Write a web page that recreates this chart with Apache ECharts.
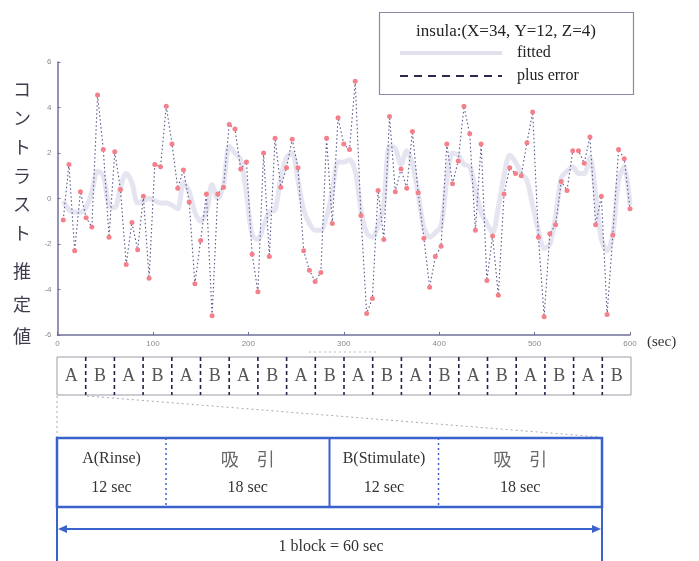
<!DOCTYPE html>
<html>
<head>
<meta charset="utf-8">
<script src="https://cdn.jsdelivr.net/npm/echarts@6/dist/echarts.min.js"></script>
<style>
  html, body { margin: 0; padding: 0; background: #fff; }
  #chart { width: 699px; height: 561px; }
</style>
</head>
<body>
<div id="chart"></div>
<script>
// scan times (sec)
var times = [6, 12, 18, 24, 30, 36, 42, 48, 54, 60,
  66, 72, 78, 84, 90, 96, 102, 108, 114, 120,
  126, 132, 138, 144, 150, 156, 162, 168, 174, 180,
  186, 192, 198, 204, 210, 216, 222, 228, 234, 240,
  246, 252, 258, 264, 270, 276, 282, 288, 294, 300,
  306, 312, 318, 324, 330, 336, 342, 348, 354, 360,
  366, 372, 378, 384, 390, 396, 402, 408, 414, 420,
  426, 432, 438, 444, 450, 456, 462, 468, 474, 480,
  486, 492, 498, 504, 510, 516, 522, 528, 534, 540,
  546, 552, 558, 564, 570, 576, 582, 588, 594, 600];

var fitted = [-0.1, -0.5, -0.6, -0.6, -0.4, 0.3, 1.2, 1.0, -0.3, -0.4,
  0.5, 1.1, 0.7, -0.2, -0.1, 0.0, -0.1, -0.2, -0.2, -0.3,
  -0.45, 0.7, 0.3, -0.6, -1.0, -0.6, 0.6, 0.0, 0.6, 2.3,
  2.0, 1.7, 0.2, -1.6, -1.8, -1.2, -0.6, -0.5, 0.9, 1.8,
  2.0, 0.8, -0.5, -1.1, -1.4, -1.4, -0.8, 0.3, 1.6, 1.6,
  1.7, 1.2, -0.5, -1.5, -1.7, -1.2, -0.2, 2.3, 2.2, 1.5,
  2.1, 1.5, 0.2, -1.3, -1.7, -1.5, -1.2, 0.8, 2.0, 1.9,
  1.5, 1.4, 0.4, -0.6, -1.1, -1.5, -0.4, 1.0, 1.9, 1.6,
  1.1, 0.8, -0.3, -1.4, -2.2, -2.0, -0.8, 0.9, 1.2, 1.4,
  1.1, 1.1, 1.8, 0.2, -1.8, -2.3, -1.6, 0.8, 1.4, -0.3];

var plusError = [-0.95, 1.5, -2.3, 0.3, -0.85, -1.25, 4.55, 2.15, -1.7, 2.05,
  0.4, -2.9, -1.05, -2.25, 0.1, -3.5, 1.5, 1.4, 4.05, 2.4,
  0.45, 1.25, -0.15, -3.75, -1.85, 0.2, -5.15, 0.2, 0.5, 3.25,
  3.05, 1.3, 1.6, -2.45, -4.1, 2.0, -2.55, 2.65, 0.5, 1.35,
  2.6, 1.35, -2.3, -3.15, -3.65, -3.25, 2.65, -1.1, 3.55, 2.4,
  2.15, 5.15, -0.75, -5.05, -4.4, 0.35, -1.8, 3.6, 0.3, 1.3,
  0.45, 2.95, 0.25, -1.75, -3.9, -2.55, -2.1, 2.4, 0.65, 1.65,
  4.05, 2.85, -1.4, 2.4, -3.6, -1.65, -4.25, 0.2, 1.35, 1.1,
  1.0, 2.45, 3.8, -1.7, -5.2, -1.55, -1.15, 0.75, 0.35, 2.1,
  2.1, 1.55, 2.7, -1.15, 0.1, -5.1, -1.6, 2.15, 1.75, -0.45];

// block design
var blockLabels = ['A', 'B', 'A', 'B', 'A', 'B', 'A', 'B', 'A', 'B',
  'A', 'B', 'A', 'B', 'A', 'B', 'A', 'B', 'A', 'B'];
var blockSec = 30;
var segDur = [12, 18, 12, 18];
var segTop = ['A(Rinse)', '吸　引', 'B(Stimulate)', '吸　引'];
var segBottom = ['12 sec', '18 sec', '12 sec', '18 sec'];

var yTitleChars = ['コ', 'ン', 'ト', 'ラ', 'ス', 'ト', '推', '定', '値'];
var yTitleTops = [90, 119, 148, 177, 205, 234, 272, 305, 337];

var serif = '"Liberation Serif", "DejaVu Serif", serif';
var cjk = '"Noto Sans CJK JP", sans-serif';
var blue = '#3a62cc';

var chart = echarts.init(document.getElementById('chart'), null, {renderer: 'canvas'});

var blockData = blockLabels.map(function (l, i) { return [i * blockSec, (i + 1) * blockSec, l, i]; });
var segData = [];
var acc = 0;
segDur.forEach(function (d, i) {
  segData.push([acc, acc + d, segTop[i], segBottom[i], i]);
  acc += d;
});

var graphics = [];
yTitleChars.forEach(function (c, i) {
  graphics.push({
    type: 'text', left: 13, top: yTitleTops[i] - 10,
    style: {text: c, font: '18px ' + cjk, fill: '#3d3d4d'}
  });
});
graphics.push(
  {type: 'text', left: 647, top: 335, style: {text: '(sec)', font: '15px ' + serif, fill: '#333'}},
  // legend box
  {type: 'rect', shape: {x: 379.5, y: 12.5, width: 254, height: 82},
    style: {fill: '#fff', stroke: '#8a8aa8', lineWidth: 1.2}, z: 100},
  {type: 'text', x: 506, y: 32, z: 101,
    style: {text: 'insula:(X=34, Y=12, Z=4)', font: '17px ' + serif, fill: '#222', align: 'center', verticalAlign: 'middle'}},
  {type: 'line', shape: {x1: 400, y1: 53, x2: 502, y2: 53}, z: 101,
    style: {stroke: '#e0e0ee', lineWidth: 4}},
  {type: 'text', x: 517, y: 53, z: 101,
    style: {text: 'fitted', font: '16px ' + serif, fill: '#222', verticalAlign: 'middle'}},
  {type: 'line', shape: {x1: 400, y1: 76, x2: 502, y2: 76}, z: 101,
    style: {stroke: '#2a2a50', lineWidth: 2, lineDash: [8, 6]}},
  {type: 'text', x: 517, y: 76, z: 101,
    style: {text: 'plus error', font: '16px ' + serif, fill: '#222', verticalAlign: 'middle'}},
  // faint bracket above block bar
  {type: 'line', shape: {x1: 309, y1: 352, x2: 376, y2: 352},
    style: {stroke: '#b8b8c8', lineWidth: 1, lineDash: [2, 3]}},
  // zoom guides
  {type: 'line', shape: {x1: 57, y1: 396, x2: 57, y2: 438},
    style: {stroke: '#a8a8b8', lineWidth: 1, lineDash: [2, 3]}},
  {type: 'line', shape: {x1: 87, y1: 396, x2: 600, y2: 437},
    style: {stroke: '#a8a8b8', lineWidth: 1, lineDash: [2, 3]}},
  // block span
  {type: 'line', shape: {x1: 57, y1: 507, x2: 57, y2: 561}, style: {stroke: blue, lineWidth: 2}},
  {type: 'line', shape: {x1: 602, y1: 507, x2: 602, y2: 561}, style: {stroke: blue, lineWidth: 2}},
  {type: 'line', shape: {x1: 62, y1: 529, x2: 597, y2: 529}, style: {stroke: blue, lineWidth: 2}},
  {type: 'polygon', shape: {points: [[58, 529], [67, 525], [67, 533]]}, style: {fill: blue}},
  {type: 'polygon', shape: {points: [[601, 529], [592, 525], [592, 533]]}, style: {fill: blue}},
  {type: 'text', x: 331, y: 547,
    style: {text: '1 block = 60 sec', font: '16px ' + serif, fill: '#333', align: 'center', verticalAlign: 'middle'}}
);

var option = {
  animation: false,
  backgroundColor: '#fff',
  grid: [
    {left: 57.5, right: 69, top: 62, bottom: 226},
    {left: 57, right: 68, top: 357, height: 38},
    {left: 57, right: 97, top: 438, height: 69}
  ],
  xAxis: [
    {
      type: 'value', gridIndex: 0, min: 0, max: 600, interval: 100,
      axisLine: {onZero: false, lineStyle: {color: '#6f6f98', width: 1.5}},
      axisTick: {inside: true, length: 3, lineStyle: {color: '#6f6f98'}},
      axisLabel: {fontSize: 8, color: '#8a8a8a', margin: 5},
      splitLine: {show: false}
    },
    {type: 'value', gridIndex: 1, min: 0, max: 600, show: false},
    {type: 'value', gridIndex: 2, min: 0, max: 60, show: false}
  ],
  yAxis: [
    {
      type: 'value', gridIndex: 0, min: -6, max: 6, interval: 2,
      axisLine: {show: true, onZero: false, lineStyle: {color: '#6f6f98', width: 1.5}},
      axisTick: {show: true, inside: true, length: 3, lineStyle: {color: '#6f6f98'}},
      axisLabel: {fontSize: 8, color: '#8a8a8a', margin: 6},
      splitLine: {show: false}
    },
    {type: 'value', gridIndex: 1, min: 0, max: 1, show: false},
    {type: 'value', gridIndex: 2, min: 0, max: 1, show: false}
  ],
  series: [
    {
      name: 'fitted', type: 'line', xAxisIndex: 0, yAxisIndex: 0,
      data: times.map(function (t, i) { return [t, fitted[i]]; }),
      smooth: 0.3, showSymbol: false,
      lineStyle: {color: '#e2e2ef', width: 5, opacity: 0.9}, z: 2
    },
    {
      name: 'plus error', type: 'line', xAxisIndex: 0, yAxisIndex: 0,
      data: times.map(function (t, i) { return [t, plusError[i]]; }),
      symbol: 'circle', symbolSize: 5,
      itemStyle: {color: '#f4808c'},
      lineStyle: {color: '#55558a', width: 1.1, type: [1.5, 2.5]}, z: 3
    },
    {
      type: 'custom', xAxisIndex: 1, yAxisIndex: 1,
      data: blockData,
      renderItem: function (params, api) {
        var p0 = api.coord([api.value(0), 1]);
        var p1 = api.coord([api.value(1), 0]);
        var i = api.value(3);
        var children = [{
          type: 'text', x: (p0[0] + p1[0]) / 2, y: (p0[1] + p1[1]) / 2,
          style: {text: blockLabels[i], font: '18px ' + serif, fill: '#555', align: 'center', verticalAlign: 'middle'}
        }];
        if (i === 0) {
          var e0 = api.coord([0, 1]);
          var e1 = api.coord([blockLabels.length * blockSec, 0]);
          children.push({type: 'rect', shape: {x: e0[0], y: e0[1], width: e1[0] - e0[0], height: e1[1] - e0[1]},
            style: {fill: 'none', stroke: '#9a9aa8', lineWidth: 1}});
        } else {
          children.push({type: 'line', shape: {x1: p0[0], y1: p0[1], x2: p0[0], y2: p1[1]},
            style: {stroke: '#1e2348', lineWidth: 1.6, lineDash: [4, 3]}});
        }
        return {type: 'group', children: children};
      }
    },
    {
      type: 'custom', xAxisIndex: 2, yAxisIndex: 2,
      data: segData,
      renderItem: function (params, api) {
        var p0 = api.coord([api.value(0), 1]);
        var p1 = api.coord([api.value(1), 0]);
        var i = api.value(4);
        var cx = (p0[0] + p1[0]) / 2;
        var h = p1[1] - p0[1];
        var children = [
          {type: 'text', x: cx, y: p0[1] + h * 0.3,
            style: {text: segTop[i], font: (i % 2 ? '18px ' + cjk : '16px ' + serif), fill: i % 2 ? '#6a6a6a' : '#333', align: 'center', verticalAlign: 'middle'}},
          {type: 'text', x: cx, y: p0[1] + h * 0.72,
            style: {text: segBottom[i], font: '16px ' + serif, fill: '#333', align: 'center', verticalAlign: 'middle'}}
        ];
        if (i === 0) {
          var e0 = api.coord([0, 1]);
          var e1 = api.coord([60, 0]);
          children.push({type: 'rect', shape: {x: e0[0], y: e0[1], width: e1[0] - e0[0], height: e1[1] - e0[1]},
            style: {fill: 'none', stroke: blue, lineWidth: 2.5}});
        } else {
          children.push({type: 'line', shape: {x1: p0[0], y1: p0[1], x2: p0[0], y2: p1[1]},
            style: {stroke: blue, lineWidth: i === 2 ? 2 : 1.5, lineDash: i === 2 ? null : [2, 3]}});
        }
        return {type: 'group', children: children};
      }
    }
  ],
  graphic: graphics
};

chart.setOption(option);
</script>
</body>
</html>
